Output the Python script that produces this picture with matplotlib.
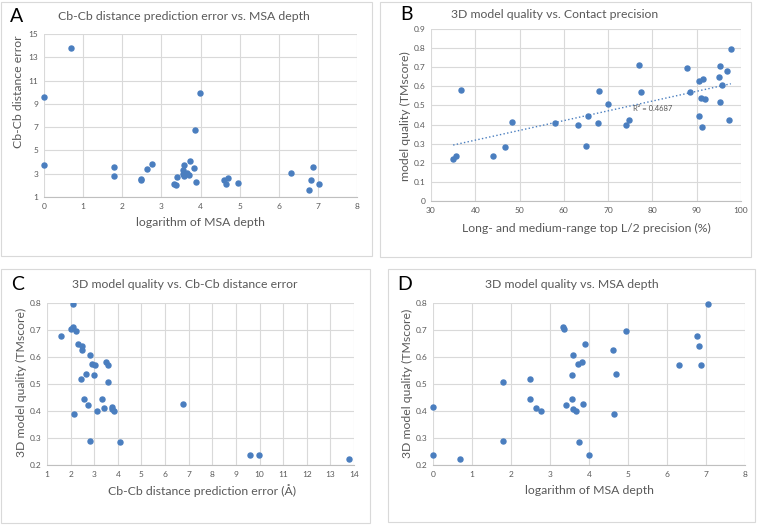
import numpy as np
from matplotlib import pyplot as plt
from matplotlib.patches import Rectangle

# one row per target: log MSA depth, Cb-Cb error, TMscore, top L/2 precision
log_depth = [0, 0, 0.69, 1.79, 1.79, 2.48, 2.48, 2.64, 2.77, 3.33, 3.37, 3.40,
             3.56, 3.56, 3.58, 3.58, 3.66, 3.71, 3.74, 3.83, 3.85, 3.89, 3.99,
             4.61, 4.64, 4.70, 4.96, 6.32, 6.78, 6.83, 6.88, 7.04]
cb_error = [3.75, 9.6, 13.8, 3.6, 2.8, 2.45, 2.55, 3.4, 3.85, 2.12, 2.0, 2.75,
            2.97, 3.35, 2.8, 3.75, 3.1, 2.9, 4.08, 3.5, 6.75, 2.3, 9.97,
            2.5, 2.15, 2.65, 2.22, 3.05, 1.6, 2.47, 3.6, 2.08]
tmscore = [0.415, 0.237, 0.222, 0.507, 0.29, 0.518, 0.445, 0.41, 0.40, 0.712, 0.705, 0.422,
           0.533, 0.443, 0.607, 0.408, 0.40, 0.573, 0.285, 0.58, 0.425, 0.648, 0.237,
           0.627, 0.388, 0.538, 0.698, 0.572, 0.679, 0.639, 0.572, 0.796]
precision = [48.3, 35.6, 35.0, 70.0, 65.1, 95.2, 90.5, 67.7, 63.2, 76.9, 95.3, 97.4,
             91.8, 65.4, 95.7, 57.9, 74.1, 68.0, 46.7, 36.7, 74.7, 95.1, 44.1,
             90.5, 91.2, 91.0, 87.9, 88.5, 96.8, 91.5, 77.4, 97.7]
r2_text = "R² = 0.4687"

W, H = 757, 525
plt.rcParams['font.family'] = ['Lato', 'DejaVu Sans']
fig = plt.figure(figsize=(W / 100, H / 100), dpi=100)

BLUE = '#4a7ebf'
GREY = '#595959'
GRID = '#d9d9d9'
LAB = 8.8


def px_axes(l, t, r, b):
    return fig.add_axes([l / W, 1 - b / H, (r - l) / W, (b - t) / H])


def box(l, t, r, b):
    fig.patches.append(Rectangle((l / W, 1 - b / H), (r - l) / W, (b - t) / H,
                                 transform=fig.transFigure, fill=False,
                                 edgecolor=GRID, lw=0.8))


def ftext(x, y, s, **kw):
    fig.text(x / W, 1 - y / H, s, ha='center', va='center', **kw)


def style(ax, xlim, xticks, ylim, yticks, ylabels=None):
    ax.set_xlim(*xlim)
    ax.set_ylim(*ylim)
    ax.set_xticks(xticks)
    ax.set_yticks(yticks)
    if ylabels is not None:
        ax.set_yticklabels(ylabels)
    ax.grid(color=GRID, lw=0.8)
    ax.set_axisbelow(True)
    for s in ['top', 'right', 'left']:
        ax.spines[s].set_visible(False)
    ax.spines['bottom'].set_color('#bfbfbf')
    ax.tick_params(length=0, labelsize=6, labelcolor=GREY, pad=4)


# panel frames
box(1, 2, 372, 256)
box(380, 2, 751, 257)
box(1, 269, 370, 523)
box(388, 269, 755, 522)

# A
ax = px_axes(44, 34, 357, 197)
ax.scatter(log_depth, cb_error, s=13, color=BLUE, zorder=3, clip_on=False)
style(ax, (0, 8), range(0, 9), (1, 15), range(1, 16, 2))
ftext(184, 16, "Cb-Cb distance prediction error vs. MSA depth", fontsize=8.8, color=GREY)
ftext(200, 223, "logarithm of MSA depth", fontsize=LAB, color=GREY)
ftext(19, 92, "Cb-Cb distance error", fontsize=LAB, color=GREY, rotation=90)
ftext(17, 16, "A", fontsize=14, color='black')

# B
ax = px_axes(431, 29, 741, 201)
ax.scatter(precision, tmscore, s=13, color=BLUE, zorder=3)
k, c = np.polyfit(precision, tmscore, 1)
xs = np.array([min(precision), max(precision)])
ax.plot(xs, k * xs + c, ls=':', color=BLUE, lw=1.0, zorder=2)
ax.text(80, 0.485, r2_text, fontsize=5.5, color=GREY, ha='center', va='center')
style(ax, (30, 100), range(30, 101, 10), (0, 0.9), np.arange(0, 0.91, 0.1),
      ['0'] + ['%.1f' % v for v in np.arange(0.1, 0.91, 0.1)])
ftext(555, 15, "3D model quality vs. Contact precision", fontsize=8.8, color=GREY)
ftext(586, 228, "Long- and medium-range top L/2 precision (%)", fontsize=LAB, color=GREY)
ftext(405, 116, "model quality (TMscore)", fontsize=LAB, color=GREY, rotation=90)
ftext(406, 15, "B", fontsize=14, color='black')

# C
ax = px_axes(47, 303, 354, 465)
ax.scatter(cb_error, tmscore, s=13, color=BLUE, zorder=3)
style(ax, (1, 14), range(1, 15), (0.2, 0.8), np.arange(0.2, 0.81, 0.1),
      ['%.1f' % v for v in np.arange(0.2, 0.81, 0.1)])
ftext(185, 285, "3D model quality vs. Cb-Cb distance error", fontsize=8.8, color=GREY)
ftext(202, 491, "Cb-Cb distance prediction error (Å)", fontsize=LAB, color=GREY)
ftext(21, 382, "3D model quality (TMscore)", fontsize=LAB, color=GREY, rotation=90)
ftext(18, 285, "C", fontsize=14, color='black')

# D
ax = px_axes(433, 303, 745, 465)
ax.scatter(log_depth, tmscore, s=13, color=BLUE, zorder=3, clip_on=False)
style(ax, (0, 8), range(0, 9), (0.2, 0.8), np.arange(0.2, 0.81, 0.1),
      ['%.1f' % v for v in np.arange(0.2, 0.81, 0.1)])
ftext(572, 285, "3D model quality vs. MSA depth", fontsize=8.8, color=GREY)
ftext(589, 491, "logarithm of MSA depth", fontsize=LAB, color=GREY)
ftext(407, 383, "3D model quality (TMscore)", fontsize=LAB, color=GREY, rotation=90)
ftext(405, 285, "D", fontsize=14, color='black')

fig.savefig("out.png", dpi=100)
